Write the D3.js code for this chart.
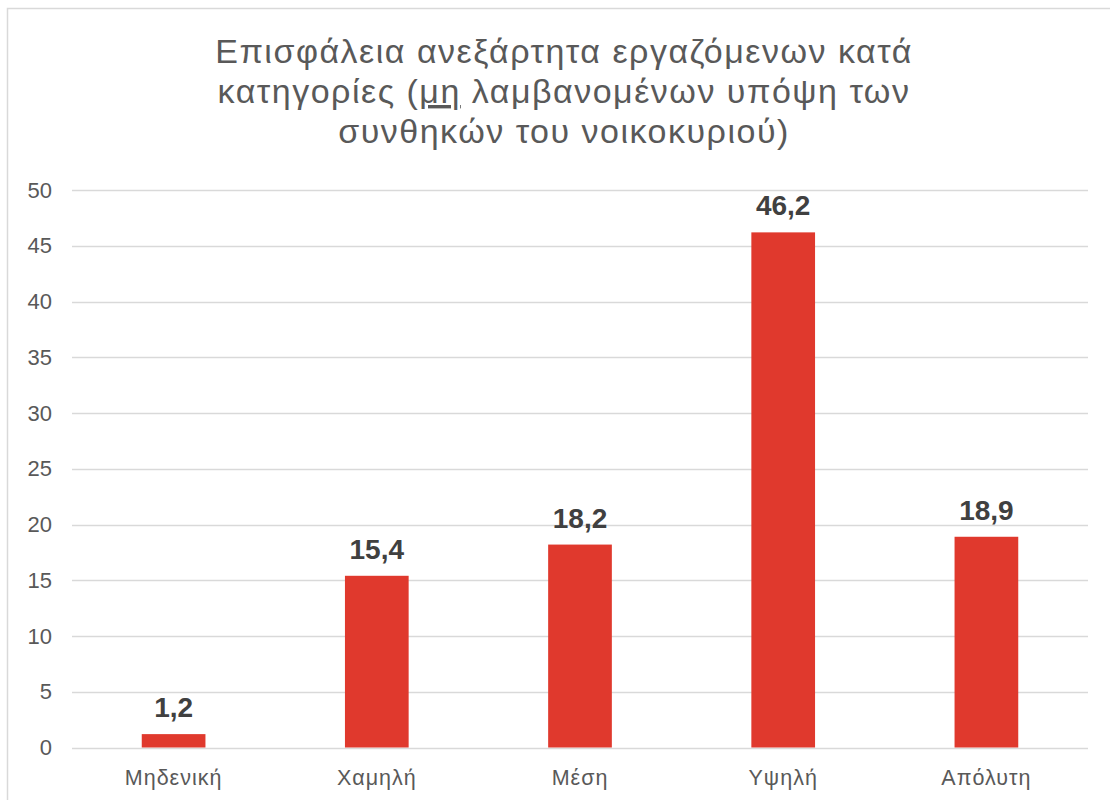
<!DOCTYPE html>
<html>
<head>
<meta charset="utf-8">
<script src="https://cdn.jsdelivr.net/npm/d3@7"></script>
<style>
  html, body { margin: 0; padding: 0; background: #fff; }
  svg { display: block; font-family: "Liberation Sans", Arial, sans-serif; }
</style>
</head>
<body>
<svg id="chart" width="1110" height="800"></svg>
<script>
const categories = ["Μηδενική", "Χαμηλή", "Μέση", "Υψηλή", "Απόλυτη"];
const values = [1.2, 15.4, 18.2, 46.2, 18.9];
const yTicks = [0, 5, 10, 15, 20, 25, 30, 35, 40, 45, 50];
const valueLabels = ["1,2", "15,4", "18,2", "46,2", "18,9"];

const svg = d3.select("#chart");
const W = 1110, H = 800;
const plot = { left: 72, right: 1088, top: 190, bottom: 747.5 };

// chart border
svg.append("path")
  .attr("d", `M7.5,${H + 5} L7.5,8.5 L${W + 5},8.5`)
  .attr("fill", "none").attr("stroke", "#d9d9d9").attr("stroke-width", 1.5);

// title
const title = svg.append("text")
  .attr("text-anchor", "middle")
  .attr("fill", "#595959")
  .attr("font-size", 34)
  .attr("letter-spacing", 1.5);
title.append("tspan").attr("x", 564).attr("y", 63).text("Επισφάλεια ανεξάρτητα εργαζόμενων κατά");
const l2 = title.append("tspan").attr("x", 564).attr("y", 103);
l2.append("tspan").text("κατηγορίες (");
l2.append("tspan").attr("text-decoration", "underline").style("text-decoration", "underline").text("μη");
l2.append("tspan").text(" λαμβανομένων υπόψη των");
title.append("tspan").attr("x", 564).attr("y", 143).text("συνθηκών του νοικοκυριού)");

const x = d3.scaleBand().domain(categories).range([plot.left, plot.right]).padding(0);
const y = d3.scaleLinear().domain([0, 50]).range([plot.bottom, plot.top]);
const barW = x.bandwidth() / 3.19;

// gridlines
svg.append("g").selectAll("line").data(yTicks).join("line")
  .attr("x1", plot.left).attr("x2", plot.right)
  .attr("y1", d => Math.round(y(d)) + 0.5).attr("y2", d => Math.round(y(d)) + 0.5)
  .attr("stroke", "#d9d9d9").attr("stroke-width", 1.5);

// y axis labels
const yAxis = d3.axisLeft(y).tickValues(yTicks).tickSize(0).tickPadding(0);
const gy = svg.append("g").attr("transform", `translate(52,0)`).call(yAxis);
gy.select(".domain").remove();
gy.selectAll("text").attr("fill", "#595959").attr("font-size", 22)
  .attr("font-family", "Liberation Sans, Arial, sans-serif");

// bars
svg.append("g").selectAll("rect").data(values).join("rect")
  .attr("x", (d, i) => x(categories[i]) + x.bandwidth() / 2 - barW / 2)
  .attr("width", barW)
  .attr("y", d => y(d))
  .attr("height", d => y(0) - y(d))
  .attr("fill", "#e0392d");

// value labels
svg.append("g").selectAll("text").data(values).join("text")
  .attr("x", (d, i) => x(categories[i]) + x.bandwidth() / 2)
  .attr("y", d => y(d) - 17)
  .attr("text-anchor", "middle")
  .attr("font-size", 28).attr("font-weight", "bold").attr("fill", "#404040")
  .text((d, i) => valueLabels[i]);

// x axis labels
const xAxis = d3.axisBottom(x).tickSize(0).tickPadding(0);
const gx = svg.append("g").attr("transform", `translate(0,${plot.bottom})`).call(xAxis);
gx.select(".domain").remove();
gx.selectAll("text").attr("fill", "#595959").attr("font-size", 21.5)
  .attr("letter-spacing", 1)
  .attr("font-family", "Liberation Sans, Arial, sans-serif")
  .attr("dy", null).attr("y", 37);
</script>
</body>
</html>
